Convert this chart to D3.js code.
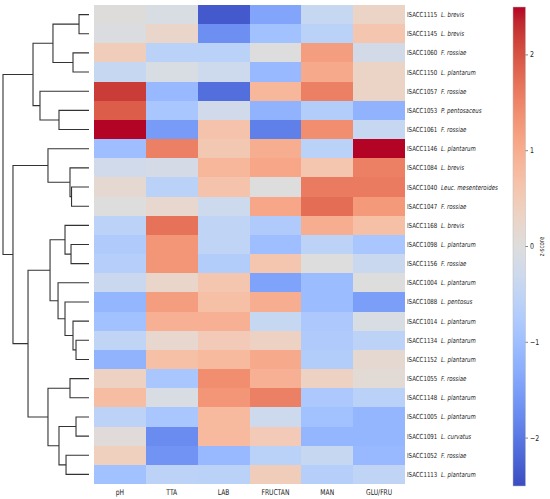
<!DOCTYPE html>
<html><head><meta charset="utf-8">
<script src="https://cdn.jsdelivr.net/npm/d3@7"></script>
<style>
html,body{margin:0;padding:0;background:#fff;}
svg{display:block;font-family:"DejaVu Sans",sans-serif;}
</style></head>
<body><svg id="c" width="550" height="499"></svg>
<script>
const columns = ["pH","TTA","LAB","FRUCTAN","MAN","GLU/FRU"];
const strains = ["ISACC1115","ISACC1145","ISACC1060","ISACC1150","ISACC1057","ISACC1053","ISACC1061","ISACC1146","ISACC1084","ISACC1040","ISACC1047","ISACC1168","ISACC1098","ISACC1156","ISACC1004","ISACC1088","ISACC1014","ISACC1134","ISACC1152","ISACC1055","ISACC1148","ISACC1005","ISACC1091","ISACC1052","ISACC1113"];
const species = ["L. brevis","L. brevis","F. rossiae","L. plantarum","F. rossiae","P. pentosaceus","F. rossiae","L. plantarum","L. brevis","Leuc. mesenteroides","F. rossiae","L. brevis","L. plantarum","F. rossiae","L. plantarum","L. pentosus","L. plantarum","L. plantarum","L. plantarum","F. rossiae","L. plantarum","L. plantarum","L. curvatus","F. rossiae","L. plantarum"];
// z-scores, one row per strain, columns: pH, TTA, LAB, FRUCTAN, MAN, GLU/FRU
const zscores = [
  [ 0.02,-0.10,-2.35,-1.40,-0.40, 0.30],
  [-0.05, 0.25,-1.70,-0.95,-0.60, 0.60],
  [ 0.45,-0.60,-0.60, 0.00, 1.20,-0.20],
  [-0.40,-0.10,-0.30,-1.10, 1.05, 0.30],
  [ 2.20,-1.10,-2.10, 0.85, 1.55, 0.30],
  [ 1.90,-0.85,-0.25,-1.20,-0.70,-1.20],
  [ 2.50,-1.55, 0.65,-1.90, 1.40,-0.40],
  [-1.00, 1.55, 0.55, 1.00,-0.60, 2.50],
  [-0.25,-0.15, 0.85, 1.10, 0.60, 1.55],
  [ 0.15,-0.60, 0.65, 0.00, 1.60, 1.60],
  [ 0.00, 0.20,-0.30, 1.10, 1.75, 1.25],
  [-0.55, 1.70,-0.50,-0.75, 1.00, 0.70],
  [-0.75, 1.30,-0.50,-1.00,-0.55,-0.85],
  [-0.65, 1.30,-0.70, 0.60, 0.00,-0.35],
  [-0.35, 0.25, 0.60,-1.45,-1.05, 0.00],
  [-1.15, 1.20, 0.70, 1.00,-1.05,-1.50],
  [-0.95, 0.95, 0.95,-0.40,-0.80,-0.10],
  [-0.50, 0.20, 0.50, 0.35,-0.75,-0.55],
  [-1.20, 0.70, 0.80, 1.05,-0.70, 0.15],
  [ 0.35,-0.85, 1.40, 0.95, 0.35, 0.10],
  [ 0.75,-0.10, 1.30, 1.55,-0.80,-0.60],
  [-0.55,-0.85, 0.80,-0.30,-0.95,-1.15],
  [ 0.05,-1.75, 0.80, 0.50,-1.15,-1.15],
  [ 0.40,-1.65,-1.10,-0.60,-0.40,-1.10],
  [-0.95,-0.55,-0.60, 0.45,-0.65,-0.50]
];
// scipy-style linkage: [left, right, distance]; leaves are 0..24, new clusters 25..
const linkage = [
  [0,1,1.16],[2,3,1.86],[5,6,3.49],[25,26,4.19],[4,27,5.70],[28,29,6.51],
  [9,10,2.03],[8,31,2.21],[7,32,4.77],
  [12,13,2.09],[11,34,2.79],[17,18,1.51],[16,36,1.86],[15,37,2.79],[14,38,3.60],[35,39,4.53],
  [19,20,2.21],[21,22,1.51],[23,24,2.67],[42,43,3.49],[41,44,4.77],[40,45,7.09],[33,46,8.84],[30,47,10.0]
];
const cbTicks = [-2,-1,0,1,2];

// coolwarm (Moreland) colormap
const cw = [[59,76,192],[68,90,204],[77,104,215],[87,117,225],[98,130,234],[108,142,241],[119,154,247],[130,165,251],[141,176,254],[152,185,255],[163,194,255],[174,201,253],[184,208,249],[194,213,244],[204,217,238],[213,219,230],[221,221,221],[229,216,209],[236,211,197],[241,204,185],[245,196,173],[247,187,160],[247,177,148],[247,166,135],[244,154,123],[241,141,111],[236,127,99],[229,112,88],[222,96,77],[213,80,66],[203,62,56],[192,40,47],[180,4,38]].map(c=>d3.rgb(c[0],c[1],c[2]).toString());
const coolwarm = d3.piecewise(d3.interpolateRgb, cw);
const color = d3.scaleSequential(coolwarm).domain([-2.5,2.5]).clamp(true);

const svg = d3.select("#c");
const hx0 = 94, hx1 = 405, hy0 = 5, hy1 = 484;
const xB = d3.scaleBand().domain(columns).range([hx0,hx1]);
const yB = d3.scaleBand().domain(d3.range(strains.length)).range([hy0,hy1]);

// heatmap cells
const cells = [];
zscores.forEach((row,i)=>row.forEach((v,j)=>cells.push({i,j,v})));
svg.append("g").selectAll("rect").data(cells).join("rect")
  .attr("x",d=>xB(columns[d.j])).attr("y",d=>yB(d.i))
  .attr("width",xB.bandwidth()+0.4).attr("height",yB.bandwidth()+0.4)
  .attr("fill",d=>color(d.v)).attr("shape-rendering","crispEdges");

// row labels
const sx = 0.78;
const rl = svg.append("g").selectAll("g").data(strains).join("g")
  .attr("transform",(d,i)=>`translate(0,${yB(i)+yB.bandwidth()/2})`);
rl.append("text").attr("transform",`translate(407,2.5) scale(${sx},1)`)
  .attr("font-size",7).attr("fill","#222").text(d=>d);
rl.append("text").attr("transform",`translate(441,2.5) scale(${sx},1)`)
  .attr("font-size",7).attr("font-style","italic").attr("fill","#222").text((d,i)=>species[i]);

// column labels
svg.append("g").selectAll("text").data(columns).join("text")
  .attr("transform",d=>`translate(${xB(d)+xB.bandwidth()/2},494.5) scale(0.75,1)`)
  .attr("text-anchor","middle").attr("font-size",8).attr("fill","#222").text(d=>d);

// dendrogram
const n = strains.length;
const nodes = [];
for(let i=0;i<n;i++) nodes.push({id:i,h:0,y:yB(i)+yB.bandwidth()/2});
linkage.forEach((l,k)=>{
  const a=nodes[l[0]], b=nodes[l[1]];
  nodes.push({id:n+k,h:l[2],y:(a.y+b.y)/2,children:[a,b]});
});
const dx = d3.scaleLinear().domain([0,10]).range([89,3]);
const dg = svg.append("g").attr("fill","none").attr("stroke","#333").attr("stroke-width",1.1);
nodes.filter(d=>d.children).forEach(nd=>{
  const [a,b]=nd.children;
  const path = d3.path();
  path.moveTo(dx(a.h),a.y); path.lineTo(dx(nd.h),a.y); path.lineTo(dx(nd.h),b.y); path.lineTo(dx(b.h),b.y);
  dg.append("path").attr("d",path.toString());
});

// colorbar
const cbx = 513, cbw = 12.5, cby0 = 7, cby1 = 486;
const cy = d3.scaleLinear().domain([-2.5,2.5]).range([cby1,cby0]);
const defs = svg.append("defs");
const grad = defs.append("linearGradient").attr("id","cbg").attr("x1",0).attr("y1",1).attr("x2",0).attr("y2",0);
cw.forEach((c,i)=>grad.append("stop").attr("offset",i/(cw.length-1)).attr("stop-color",c));
svg.append("rect").attr("x",cbx).attr("y",cby0).attr("width",cbw).attr("height",cby1-cby0)
  .attr("fill","url(#cbg)").attr("stroke","#bbb").attr("stroke-width",0.5);
const fmt = d3.format("d");
const tk = svg.append("g").selectAll("g").data(cbTicks).join("g").attr("transform",d=>`translate(${cbx+cbw},${cy(d)})`);
tk.append("line").attr("x1",0).attr("x2",2.5).attr("stroke","#333").attr("stroke-width",0.6);
tk.append("text").attr("transform",`translate(4.5,2.5) scale(0.78,1)`).attr("font-size",8).attr("fill","#222")
  .text(d=>d<0?"\u2212"+fmt(-d):fmt(d));
svg.append("text").attr("transform",`translate(544,246.5) rotate(-90) scale(0.78,1)`)
  .attr("text-anchor","middle").attr("font-size",7).attr("fill","#222").text("z-score");
</script></body></html>
